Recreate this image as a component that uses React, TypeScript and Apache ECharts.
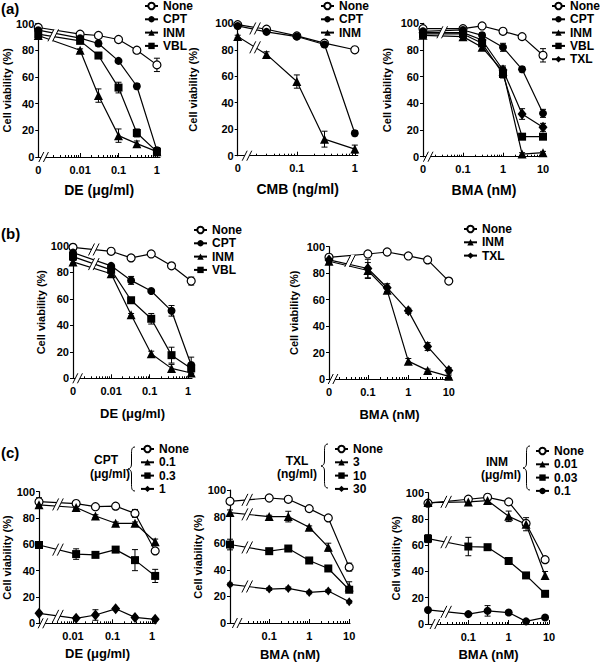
import React, { useEffect, useRef } from "react";
import * as echarts from "echarts";

const FONT = "'Liberation Sans', Arial, sans-serif";

// ---------- (a) left : DE ----------
const a1Conc = [0, 0.01, 0.03, 0.1, 0.3, 1];
const a1XTicks = ["0", "0.01", "0.1", "1"];
const a1None = [97, 92, 91, 88, 80, 69];
const a1NoneErr = [2, 1, 1, 1, 1, 5];
const a1CPT = [95, 89, 85, 72, 53, 5];
const a1CPTErr = [2, 1, 2, 1, 2, 2];
const a1INM = [91, 80, 46, 16, 10, 4];
const a1INMErr = [2, 1, 5, 5, 2, 2];
const a1VBL = [92, 87, 76, 52, 18, 4];
const a1VBLErr = [2, 1, 2, 4, 3, 3];

// ---------- (a) middle : CMB ----------
const a2Conc = [0, 0.03, 0.1, 0.3, 1];
const a2XTicks = ["0", "0.1", "1"];
const a2None = [99, 95.5, 90.5, 85, 80];
const a2NoneErr = [1, 1, 1, 1, 1];
const a2CPT = [98, 93.5, 90, 84, 17];
const a2CPTErr = [2, 1, 1, 2, 2];
const a2INM = [90, 76.5, 56, 12.5, 5];
const a2INMErr = [1, 2, 5, 6, 3];

// ---------- (a) right : BMA ----------
const a3Conc = [0, 0.1, 0.3, 1, 3, 10];
const a3XTicks = ["0", "0.1", "1", "10"];
const a3None = [96, 96, 98, 94, 90, 76];
const a3NoneErr = [1, 1, 1, 1, 1, 5];
const a3CPT = [94, 95, 91, 82, 65.5, 32.5];
const a3CPTErr = [1, 1, 2, 3, 2, 3];
const a3INM = [91, 90, 82, 64, 2, 3];
const a3INMErr = [1, 2, 2, 3, 1, 1];
const a3VBL = [92, 92, 85, 62, 15, 15];
const a3VBLErr = [1, 1, 2, 3, 1, 1];
const a3TXL = [93, 93, 87.5, 65, 32, 22];
const a3TXLErr = [1, 1, 3, 3, 4, 3];

// ---------- (b) left : DE ----------
const b1Conc = [0, 0.01, 0.033, 0.11, 0.37, 1.2];
const b1XTicks = ["0", "0.01", "0.1", "1"];
const b1None = [99, 96, 91, 94, 85, 73.5];
const b1NoneErr = [1, 1, 1, 1, 1, 3];
const b1CPT = [95, 85, 74, 66, 51, 10];
const b1CPTErr = [1, 1, 3, 1, 4, 6];
const b1INM = [88, 79, 48, 18.5, 7.5, 4];
const b1INMErr = [1, 2, 1, 2, 3, 2];
const b1VBL = [92, 82, 59, 45, 17.5, 7.5];
const b1VBLErr = [1, 3, 2, 4, 6, 4];

// ---------- (b) right : BMA ----------
const b2Conc = [0, 0.1, 0.3, 1, 3, 10];
const b2XTicks = ["0", "0.1", "1", "10"];
const b2None = [92, 94.5, 96, 93, 90, 74];
const b2NoneErr = [1, 1, 1, 1, 1, 2];
const b2INM = [89, 82, 67, 13.5, 6.5, 2];
const b2INMErr = [1, 6, 2, 2, 1, 1];
const b2TXL = [90, 83.5, 69, 51.5, 24.5, 6.5];
const b2TXLErr = [1, 7, 3, 2, 3, 2];

// ---------- (c) left : DE with CPT ----------
const c1Conc = [0, 0.012, 0.037, 0.12, 0.37, 1.2];
const c1XTicks = ["0.01", "0.1", "1"];
const c1None = [92.4, 91, 88.6, 89, 83.5, 55];
const c1NoneErr = [3, 1, 1, 1, 3, 1];
const c1Low = [90, 88, 81.5, 76, 76, 62];
const c1LowErr = [1, 1, 1, 1, 1, 2];
const c1Mid = [59.5, 52.6, 52, 56, 48, 36];
const c1MidErr = [1, 4, 1, 1, 8, 5];
const c1High = [7.6, 3.8, 6.3, 11, 4.5, 3];
const c1HighErr = [1, 1, 4, 1, 1, 1];

// ---------- (c) middle : BMA with TXL ----------
const c2Conc = [0, 0.1, 0.3, 1, 3, 10];
const c2XTicks = ["0.1", "1", "10"];
const c2None = [91.5, 94, 93, 86, 79, 42];
const c2NoneErr = [1, 1, 1, 1, 1, 3];
const c2Low = [83, 80, 80, 72, 57, 27];
const c2LowErr = [2, 1, 4, 1, 3, 4];
const c2Mid = [59, 54, 56, 47, 41, 25];
const c2MidErr = [4, 1, 1, 1, 1, 2];
const c2High = [29, 25.5, 26, 23, 24, 16];
const c2HighErr = [1, 1, 1, 1, 1, 1];

// ---------- (c) right : BMA with INM ----------
const c3Conc = [0, 0.1, 0.3, 1, 2.7, 8];
const c3XTicks = ["0.1", "1", "10"];
const c3None = [92, 95, 96.5, 93, 76.6, 49];
const c3NoneErr = [1, 1, 1, 1, 1, 2];
const c3Low = [92.5, 93, 94, 82, 76, 37];
const c3LowErr = [1, 1, 2, 4, 5, 3];
const c3Mid = [65, 59, 58.5, 48, 37, 23];
const c3MidErr = [3, 7, 1, 1, 1, 1];
const c3High = [10.7, 7.5, 10, 8.7, 2, 5];
const c3HighErr = [1, 1, 4, 1, 1, 1];

const Y_TITLE = "Cell viability (%)";

const SYMS: Record<string, any> = {
  open: { symbol: "circle", symbolSize: 8, itemStyle: { color: "#fff", borderColor: "#000", borderWidth: 1.2 } },
  dot: { symbol: "circle", symbolSize: 8, itemStyle: { color: "#000", borderColor: "#000", borderWidth: 0 } },
  tri: { symbol: "triangle", symbolSize: 9, itemStyle: { color: "#000", borderColor: "#000", borderWidth: 0 } },
  sq: { symbol: "rect", symbolSize: 8, itemStyle: { color: "#000", borderColor: "#000", borderWidth: 0 } },
  dia: { symbol: "diamond", symbolSize: [9, 11], itemStyle: { color: "#000", borderColor: "#000", borderWidth: 0 } },
  diaS: { symbol: "diamond", symbolSize: [7, 9], itemStyle: { color: "#000", borderColor: "#000", borderWidth: 0 } },
};

type SDef = { label: string; sym: string; v: number[]; e: number[] };
type Panel = {
  id: string;
  conc: number[];
  ticks: string[];
  series: SDef[];
  zero: number;
  xMax: number;
  axisBreak: number;
  lineBreak: number;
  grid: { left: number; top: number; width: number; height: number };
  xTitle: string;
  xTitleSize: number;
  xGap: number;
  yGap: number;
  legend: { left: number; top: number };
};

const panels: Panel[] = [
  {
    id: "a1", conc: a1Conc, ticks: a1XTicks, zero: -3.09, xMax: 0.08, axisBreak: -2.95, lineBreak: -2.7,
    grid: { left: 38, top: 23.5, width: 122, height: 133.5 }, xTitle: "DE (μg/ml)", xTitleSize: 14, xGap: 26, yGap: 17,
    legend: { left: 144, top: 0 },
    series: [
      { label: "None", sym: "open", v: a1None, e: a1NoneErr },
      { label: "CPT", sym: "dot", v: a1CPT, e: a1CPTErr },
      { label: "INM", sym: "tri", v: a1INM, e: a1INMErr },
      { label: "VBL", sym: "sq", v: a1VBL, e: a1VBLErr },
    ],
  },
  {
    id: "a2", conc: a2Conc, ticks: a2XTicks, zero: -2.02, xMax: 0.05, axisBreak: -1.86, lineBreak: -1.72,
    grid: { left: 237.7, top: 23.3, width: 120, height: 132.4 }, xTitle: "CMB (ng/ml)", xTitleSize: 14, xGap: 26, yGap: 39,
    legend: { left: 320, top: 0 },
    series: [
      { label: "None", sym: "open", v: a2None, e: a2NoneErr },
      { label: "CPT", sym: "dot", v: a2CPT, e: a2CPTErr },
      { label: "INM", sym: "tri", v: a2INM, e: a2INMErr },
    ],
  },
  {
    id: "a3", conc: a3Conc, ticks: a3XTicks, zero: -2.0, xMax: 1.05, axisBreak: -1.87, lineBreak: -1.52,
    grid: { left: 423, top: 23.3, width: 122, height: 133.4 }, xTitle: "BMA (nM)", xTitleSize: 14, xGap: 26, yGap: 31,
    legend: { left: 551, top: 0 },
    series: [
      { label: "None", sym: "open", v: a3None, e: a3NoneErr },
      { label: "CPT", sym: "dot", v: a3CPT, e: a3CPTErr },
      { label: "INM", sym: "tri", v: a3INM, e: a3INMErr },
      { label: "VBL", sym: "sq", v: a3VBL, e: a3VBLErr },
      { label: "TXL", sym: "dia", v: a3TXL, e: a3TXLErr },
    ],
  },
  {
    id: "b1", conc: b1Conc, ticks: b1XTicks, zero: -2.99, xMax: 0.1, axisBreak: -2.87, lineBreak: -2.45,
    grid: { left: 73, top: 246, width: 119, height: 132.3 }, xTitle: "DE (μg/ml)", xTitleSize: 13, xGap: 29, yGap: 27,
    legend: { left: 193, top: 224 },
    series: [
      { label: "None", sym: "open", v: b1None, e: b1NoneErr },
      { label: "CPT", sym: "dot", v: b1CPT, e: b1CPTErr },
      { label: "INM", sym: "tri", v: b1INM, e: b1INMErr },
      { label: "VBL", sym: "sq", v: b1VBL, e: b1VBLErr },
    ],
  },
  {
    id: "b2", conc: b2Conc, ticks: b2XTicks, zero: -1.96, xMax: 1.03, axisBreak: -1.86, lineBreak: -1.44,
    grid: { left: 329, top: 246.7, width: 121, height: 132.3 }, xTitle: "BMA (nM)", xTitleSize: 13, xGap: 29, yGap: 30,
    legend: { left: 463, top: 223 },
    series: [
      { label: "None", sym: "open", v: b2None, e: b2NoneErr },
      { label: "INM", sym: "tri", v: b2INM, e: b2INMErr },
      { label: "TXL", sym: "dia", v: b2TXL, e: b2TXLErr },
    ],
  },
  {
    id: "c1", conc: c1Conc, ticks: c1XTicks, zero: -2.86, xMax: 0.1, axisBreak: -2.76, lineBreak: -2.38,
    grid: { left: 39, top: 491.7, width: 117, height: 131.6 }, xTitle: "DE (μg/ml)", xTitleSize: 13, xGap: 24, yGap: 17,
    legend: { left: 140, top: 443 },
    series: [
      { label: "None", sym: "open", v: c1None, e: c1NoneErr },
      { label: "0.1", sym: "tri", v: c1Low, e: c1LowErr },
      { label: "0.3", sym: "sq", v: c1Mid, e: c1MidErr },
      { label: "1", sym: "dia", v: c1High, e: c1HighErr },
    ],
  },
  {
    id: "c2", conc: c2Conc, ticks: c2XTicks, zero: -1.98, xMax: 1.02, axisBreak: -1.8, lineBreak: -1.55,
    grid: { left: 230, top: 490, width: 120, height: 134 }, xTitle: "BMA (nM)", xTitleSize: 13, xGap: 25, yGap: 21,
    legend: { left: 334, top: 443 },
    series: [
      { label: "None", sym: "open", v: c2None, e: c2NoneErr },
      { label: "3", sym: "tri", v: c2Low, e: c2LowErr },
      { label: "10", sym: "sq", v: c2Mid, e: c2MidErr },
      { label: "30", sym: "diaS", v: c2High, e: c2HighErr },
    ],
  },
  {
    id: "c3", conc: c3Conc, ticks: c3XTicks, zero: -2.0, xMax: 1.0, axisBreak: -1.83, lineBreak: -1.55,
    grid: { left: 428, top: 492.7, width: 121, height: 134 }, xTitle: "BMA (nM)", xTitleSize: 13, xGap: 24, yGap: 27,
    legend: { left: 535, top: 445 },
    series: [
      { label: "None", sym: "open", v: c3None, e: c3NoneErr },
      { label: "0.01", sym: "tri", v: c3Low, e: c3LowErr },
      { label: "0.03", sym: "sq", v: c3Mid, e: c3MidErr },
      { label: "0.1", sym: "dot", v: c3High, e: c3HighErr },
    ],
  },
];

const BRACE_D =
  "M7,0 C3.5,0 3.5,3 3.5,8 L3.5,17 C3.5,20.5 2,21.5 0,22 C2,22.5 3.5,23.5 3.5,27 L3.5,36 C3.5,41 3.5,44 7,44";
echarts.graphic.registerShape("brace", (echarts.graphic as any).extendPath(BRACE_D, {}));

const BLACK = "#000";
const lineSt = { stroke: BLACK, lineWidth: 1 };

function errRender(_p: any, api: any) {
  const x = api.value(0), y = api.value(1), e = api.value(2);
  if (!(e > 0)) return { type: "group", children: [] };
  const t = api.coord([x, y + e]);
  const b = api.coord([x, Math.max(0, y - e)]);
  const w = 3;
  return {
    type: "group",
    children: [
      { type: "line", shape: { x1: t[0], y1: t[1], x2: b[0], y2: b[1] }, style: lineSt },
      { type: "line", shape: { x1: t[0] - w, y1: t[1], x2: t[0] + w, y2: t[1] }, style: lineSt },
      { type: "line", shape: { x1: b[0] - w, y1: b[1], x2: b[0] + w, y2: b[1] }, style: lineSt },
    ],
  };
}

function breakRender(_p: any, api: any) {
  const p = api.coord([api.value(0), api.value(1)]);
  const h = api.value(2);
  const cx = p[0], cy = p[1];
  const dx = h * 0.5, s = 2.3;
  return {
    type: "group",
    children: [
      {
        type: "polygon",
        shape: { points: [[cx - s - dx, cy + h], [cx - s + dx, cy - h], [cx + s + dx, cy - h], [cx + s - dx, cy + h]] },
        style: { fill: "#fff", stroke: null },
      },
      { type: "line", shape: { x1: cx - s - dx, y1: cy + h, x2: cx - s + dx, y2: cy - h }, style: lineSt },
      { type: "line", shape: { x1: cx + s - dx, y1: cy + h, x2: cx + s + dx, y2: cy - h }, style: lineSt },
    ],
  };
}

function buildOption() {
  const grid: any[] = [];
  const xAxis: any[] = [];
  const yAxis: any[] = [];
  const series: any[] = [];
  const legend: any[] = [];

  panels.forEach((p, i) => {
    const X = (c: number) => (c === 0 ? p.zero : Math.log10(c));
    grid.push({ ...p.grid, containLabel: false });

    const labelPos = p.ticks.map((t) => X(Number(t)));
    const majors = p.ticks.filter((t) => Number(t) !== 0).map((t) => Math.log10(Number(t)));
    const minors: number[] = [];
    for (let n = Math.floor(p.zero); n <= Math.ceil(p.xMax); n++) {
      for (let k = 2; k <= 9; k++) {
        const v = Math.log10(k * Math.pow(10, n));
        if (v > p.axisBreak + 0.12 && v < p.xMax) minors.push(v);
      }
    }
    const axisFont = { fontFamily: FONT, fontWeight: "bold", fontSize: 11, color: BLACK };

    xAxis.push({
      type: "value",
      gridIndex: i,
      position: "bottom",
      min: p.zero,
      max: p.xMax,
      axisLine: { show: true, onZero: false, lineStyle: { color: BLACK, width: 1.2 } },
      axisTick: { show: true, inside: true, length: 4, customValues: majors, lineStyle: { color: BLACK, width: 1 } },
      axisLabel: {
        ...axisFont,
        margin: 7,
        customValues: labelPos,
        formatter: (v: number) => {
          const k = labelPos.findIndex((q) => Math.abs(q - v) < 1e-6);
          return k >= 0 ? p.ticks[k] : "";
        },
      },
      splitLine: { show: false },
      name: p.xTitle,
      nameLocation: "middle",
      nameGap: p.xGap,
      nameTextStyle: { fontFamily: FONT, fontWeight: "bold", fontSize: p.xTitleSize, color: BLACK },
    });
    xAxis.push({
      type: "value",
      gridIndex: i,
      position: "bottom",
      min: p.zero,
      max: p.xMax,
      axisLine: { show: false, onZero: false },
      axisTick: { show: true, inside: true, length: 2, customValues: minors, lineStyle: { color: BLACK, width: 1 } },
      axisLabel: { show: false },
      splitLine: { show: false },
    });
    yAxis.push({
      type: "value",
      gridIndex: i,
      min: 0,
      max: 100,
      interval: 20,
      axisLine: { show: true, onZero: false, lineStyle: { color: BLACK, width: 1.2 } },
      axisTick: { show: true, inside: false, length: 3, lineStyle: { color: BLACK, width: 1 } },
      axisLabel: { ...axisFont, margin: 4 },
      splitLine: { show: false },
      name: Y_TITLE,
      nameLocation: "middle",
      nameGap: p.yGap,
      nameTextStyle: { fontFamily: FONT, fontWeight: "bold", fontSize: 11, color: BLACK },
    });

    const xi = 2 * i;
    p.series.forEach((s) => {
      const sym = SYMS[s.sym];
      series.push({
        type: "line",
        name: `${p.id}|${s.label}`,
        xAxisIndex: xi,
        yAxisIndex: i,
        data: p.conc.map((c, k) => [X(c), s.v[k]]),
        symbol: sym.symbol,
        symbolSize: sym.symbolSize,
        itemStyle: sym.itemStyle,
        lineStyle: { color: BLACK, width: 1.2 },
        showAllSymbol: true,
        clip: false,
        z: 3,
        emphasis: { disabled: true },
      });
      series.push({
        type: "custom",
        name: `${p.id}|err|${s.label}`,
        xAxisIndex: xi,
        yAxisIndex: i,
        data: p.conc.map((c, k) => [X(c), s.v[k], s.e[k]]),
        encode: { x: 0, y: 1 },
        renderItem: errRender,
        clip: false,
        z: 2,
        silent: true,
      });
    });

    // break marks on the lines between "0" and the first concentration
    const x0 = p.zero, x1 = X(p.conc[1]);
    const f = (p.lineBreak - x0) / (x1 - x0);
    const ys = p.series.map((s) => s.v[0] + (s.v[1] - s.v[0]) * f).sort((a, b) => b - a);
    const clusters: number[][] = [];
    ys.forEach((y) => {
      const last = clusters[clusters.length - 1];
      if (last && last[last.length - 1] - y < 7.5) last.push(y);
      else clusters.push([y]);
    });
    const breakData = clusters.map((c) => [p.lineBreak, (c[0] + c[c.length - 1]) / 2, 6]);
    breakData.push([p.axisBreak, 0, 5]);
    series.push({
      type: "custom",
      name: `${p.id}|breaks`,
      xAxisIndex: xi,
      yAxisIndex: i,
      data: breakData,
      encode: { x: 0, y: 1 },
      renderItem: breakRender,
      clip: false,
      z: 5,
      silent: true,
    });

    legend.push({
      orient: "vertical",
      left: p.legend.left,
      top: p.legend.top,
      padding: 0,
      itemWidth: 13,
      itemHeight: 8,
      itemGap: 1.3,
      selectedMode: false,
      data: p.series.map((s) => `${p.id}|${s.label}`),
      formatter: (n: string) => n.split("|")[1],
      textStyle: { fontFamily: FONT, fontWeight: "bold", fontSize: 12, color: BLACK, lineHeight: 12 },
    });
  });

  const txt = (text: string, x: number, y: number, size = 12, align = "left") => ({
    type: "text",
    x,
    y,
    style: {
      text,
      fontFamily: FONT,
      fontWeight: "bold",
      fontSize: size,
      fill: BLACK,
      align,
      verticalAlign: "middle",
    },
  });

  const graphic: any[] = [
    txt("(a)", 1, 8, 15),
    txt("(b)", 1, 233, 15),
    txt("(c)", 1, 452, 15),
    txt("CPT", 106, 460, 12, "center"),
    txt("(μg/ml)", 110, 474, 12, "center"),
    { type: "brace", x: 128, y: 447, style: { stroke: BLACK, fill: "none", lineWidth: 1 } },
    txt("TXL", 297, 461, 12, "center"),
    txt("(ng/ml)", 297, 474, 12, "center"),
    { type: "brace", x: 321, y: 444, style: { stroke: BLACK, fill: "none", lineWidth: 1 } },
    txt("INM", 497, 462, 12, "center"),
    txt("(μg/ml)", 501, 475, 12, "center"),
    { type: "brace", x: 523, y: 446, style: { stroke: BLACK, fill: "none", lineWidth: 1 } },
  ];

  return {
    animation: false,
    backgroundColor: "#fff",
    textStyle: { fontFamily: FONT },
    grid,
    xAxis,
    yAxis,
    series,
    legend,
    graphic,
  };
}

export default function App() {
  const ref = useRef<HTMLDivElement>(null);
  useEffect(() => {
    if (!ref.current) return;
    const chart = echarts.init(ref.current, undefined, { renderer: "svg" });
    chart.setOption(buildOption() as any);
    return () => chart.dispose();
  }, []);
  return <div ref={ref} style={{ position: "absolute", left: 0, top: 0, width: 600, height: 662 }} />;
}
